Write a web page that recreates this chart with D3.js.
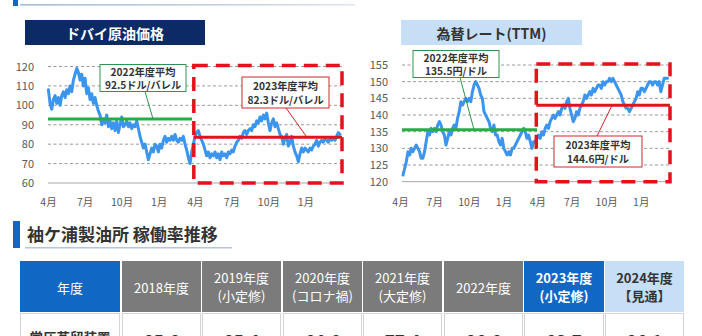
<!DOCTYPE html>
<html><head><meta charset="utf-8">
<script src="https://cdn.jsdelivr.net/npm/d3@7"></script>
<style>
html,body{margin:0;padding:0;background:#fff;overflow:hidden;}
svg{display:block;font-family:"Noto Sans CJK JP","Noto Sans",sans-serif;}
</style></head><body>
<svg id="c" width="702" height="336"></svg>
<script>
// ---------------- data ----------------
const oilValues = [108,101,98,103,105,101,104,100,105,107,104,108,106,110,107,113,116,119,117,113,
116,110,114,106,109,103,106,101,104,100,97,95,90,93,91,95,89,92,88,91,
87,92,86,90,94,89,90,92,89,91,88,90,89,92,88,84,81,78,80,76,
72,75,78,76,80,79,76,80,78,82,84,81,83,82,84,82,85,82,81,83,
82,84,80,77,73,70,76,80,84,86,87,84,82,80,77,74,76,73,75,74,
76,73,75,72,76,74,75,73,76,75,77,76,79,81,82,84,83,86,87,85,
87,88,87,90,89,92,91,94,92,95,93,96,91,87,91,93,89,91,88,85,
84,80,83,85,79,81,84,79,76,74,71,75,78,76,78,77,76,78,77,79,
80,82,79,81,82,81,83,82,81,83,82,83,82,84,86,85];
const oilDateRange = ["2022-04-02","2024-03-27"];

const fxValues = [122,124,126,129,128,130,129,130,131,130,129,127,127,129,132,135,134,136,135,136,
135,137,138,137,135,134,131,133,135,134,136,137,136,139,141,144,143,144,145,144,
145,144,147,149,150,149,148,146,145,141,140,139,138,136,135,137,134,134,132,131,
133,130,129,128,129,128,130,130,131,132,133,134,135,136,135,133,134,132,130,132,
132,133,134,133,135,134,136,137,136,138,139,140,139,140,141,140,142,143,142,144,
145,142,140,138,139,141,140,142,143,144,146,145,146,147,146,148,147,148,149,149,
148,150,149,150,150,151,150,151,150,149,148,147,146,144,143,142,142,141,142,143,
144,145,147,146,148,148,147,148,149,150,150,149,150,150,149,150,147,149,151,151,151];
const fxDateRange = ["2022-04-09","2024-03-12"];

const monthTicks = ["2022-04-01","2022-07-01","2022-10-01","2023-01-01","2023-04-01","2023-07-01","2023-10-01","2024-01-01"];
const oilYTicks = [60,70,80,90,100,110,120];
const fxYTicks = [120,125,130,135,140,145,150,155];
const oilAvgLevels = [93.0, 83.5];
const fxAvgLevels = [135.6, 142.9];
const oilAvgLabels = [["2022年度平均","92.5ドル/バレル"],["2023年度平均","82.3ドル/バレル"]];
const fxAvgLabels = [["2022年度平均","135.5円/ドル"],["2023年度平均","144.6円/ドル"]];
const fiscalSplit = "2023-04-01";

const tableHeaders = [["年度"],["2018年度"],["2019年度","(小定修)"],["2020年度","(コロナ禍)"],["2021年度","(大定修)"],["2022年度"],["2023年度","(小定修)"],["2024年度","【見通】"]];
const rowLabel = "常圧蒸留装置";
const rowValues = ["85.6","85.4","64.6","77.4","86.6","83.7","96.1"];

// ---------------- drawing ----------------
const svg = d3.select("#c");
const P = d3.timeParse("%Y-%m-%d");
const BLUE = "#1167c4";

// top decoration
svg.append("rect").attr("x",13).attr("y",0).attr("width",5).attr("height",6).attr("fill",BLUE);
const g0 = svg.append("defs").append("linearGradient").attr("id","tg");
g0.append("stop").attr("offset","0%").attr("stop-color","#a9bccd");
g0.append("stop").attr("offset","60%").attr("stop-color","#c4d0dc");
g0.append("stop").attr("offset","100%").attr("stop-color","#dfe6ee");
svg.append("rect").attr("x",20).attr("y",4).attr("width",335).attr("height",1.6).attr("fill","url(#tg)");

function datesFor(range, n){
  const t = d3.scaleLinear().domain([0,n-1]).range([P(range[0]).getTime(),P(range[1]).getTime()]);
  return d3.range(n).map(i=>new Date(t(i)));
}

function panel(cfg){
  const g = svg.append("g");
  // title box
  g.append("rect").attr("x",cfg.title.x).attr("y",20).attr("width",cfg.title.w).attr("height",25).attr("fill",cfg.title.fill);
  g.append("text").attr("x",cfg.title.x+cfg.title.w/2).attr("y",33).attr("text-anchor","middle")
    .attr("dominant-baseline","central").attr("font-size",14).attr("font-weight",700)
    .attr("fill",cfg.title.color).text(cfg.title.text);

  const x = d3.scaleTime().domain([P("2022-04-01"),P("2024-04-01")]).range(cfg.xRange);
  const y = d3.scaleLinear().domain(d3.extent(cfg.yTicks)).range(cfg.yRange);
  const L = cfg.plot[0], R = cfg.plot[1];

  // grid
  g.selectAll(".grid").data(cfg.yTicks).join("line")
    .attr("x1",L).attr("x2",R).attr("y1",d=>y(d)).attr("y2",d=>y(d))
    .attr("stroke", d=> d===cfg.yTicks[0] ? "#a6a6a6" : "#9a9a9a")
    .attr("stroke-width",1)
    .attr("stroke-dasharray", d=> d===cfg.yTicks[0] ? null : "3,2.5");

  // y axis labels
  const ya = g.append("g").attr("transform",`translate(${L},0)`)
    .call(d3.axisLeft(y).tickValues(cfg.yTicks).tickSize(0).tickPadding(cfg.yPad));
  ya.select(".domain").remove();
  ya.selectAll("text").attr("font-size",11).attr("fill","#595959").attr("font-family","'Noto Sans CJK JP',sans-serif");

  // x axis labels
  const xa = g.append("g").attr("transform",`translate(0,${cfg.xLabelY})`)
    .call(d3.axisBottom(x).tickValues(monthTicks.map(P)).tickSize(0).tickPadding(0)
      .tickFormat(d=>(d.getMonth()+1)+"月"));
  xa.select(".domain").remove();
  xa.selectAll("text").attr("font-size",10.5).attr("fill","#595959").attr("font-family","'Noto Sans CJK JP',sans-serif");

  // series
  const dates = datesFor(cfg.dateRange, cfg.values.length);
  const pts = cfg.values.map((v,i)=>[dates[i],v]);
  g.append("path").datum(pts)
    .attr("fill","none").attr("stroke","#3b95ee").attr("stroke-width",3)
    .attr("stroke-linejoin","round").attr("stroke-linecap","round")
    .attr("d", d3.line().x(d=>x(d[0])).y(d=>y(d[1])));

  const split = x(P(fiscalSplit));
  // average lines
  g.append("line").attr("x1",L).attr("x2",cfg.greenEnd).attr("y1",y(cfg.avg[0])).attr("y2",y(cfg.avg[0]))
    .attr("stroke","#27ad46").attr("stroke-width",3);
  g.append("line").attr("x1",split-1).attr("x2",R).attr("y1",y(cfg.avg[1])).attr("y2",y(cfg.avg[1]))
    .attr("stroke","#e3121b").attr("stroke-width",3);

  // dashed frame
  g.append("rect").attr("x",split-1).attr("y",y(cfg.yTicks[cfg.yTicks.length-1])-1)
    .attr("width",R-split+1).attr("height",y(cfg.yTicks[0])-y(cfg.yTicks[cfg.yTicks.length-1])+1)
    .attr("fill","none").attr("stroke","#e3121b").attr("stroke-width",3.5).attr("stroke-dasharray","14,8");

  // labels
  cfg.boxes.forEach((b,i)=>{
    const col = i===0 ? "#2f9350" : "#d0262c";
    g.append("line").attr("x1",b.lx1).attr("y1",b.ly1).attr("x2",b.lx2).attr("y2",y(cfg.avg[i]))
      .attr("stroke",col).attr("stroke-width",1);
    g.append("rect").attr("x",b.x).attr("y",b.y).attr("width",b.w).attr("height",b.h)
      .attr("fill","#fff").attr("stroke",col).attr("stroke-width",1);
    cfg.labels[i].forEach((t,j)=>{
      g.append("text").attr("x",b.x+b.w/2).attr("y",b.y+b.h/2+(j===0?-6.8:6.8)).attr("text-anchor","middle")
        .attr("dominant-baseline","central").attr("font-size",10.2).attr("font-weight",700)
        .attr("fill","#333").text(t);
    });
  });
}

panel({
  title:{x:25,w:180,fill:"#0b2a66",color:"#fff",text:"ドバイ原油価格"},
  xRange:[48,342], yRange:[183,66.5], plot:[48,342], yPad:14, xLabelY:199,
  yTicks:oilYTicks, values:oilValues, dateRange:oilDateRange, avg:oilAvgLevels, greenEnd:192,
  labels:oilAvgLabels,
  boxes:[{x:100,y:64.5,w:86,h:27,lx1:145,ly1:91.5,lx2:153},{x:242,y:77,w:87,h:31,lx1:286,ly1:108,lx2:307}]
});
panel({
  title:{x:401,w:181,fill:"#c6def6",color:"#333",text:"為替レート(TTM)"},
  xRange:[400,675], yRange:[181.7,65], plot:[402,670], yPad:14, xLabelY:199,
  yTicks:fxYTicks, values:fxValues, dateRange:fxDateRange, avg:fxAvgLevels, greenEnd:537,
  labels:fxAvgLabels,
  boxes:[{x:413,y:50.5,w:86,h:27,lx1:460,ly1:77.5,lx2:474},{x:554,y:136,w:88,h:31,lx1:597,ly1:136,lx2:612}]
});

// section heading
svg.append("rect").attr("x",13).attr("y",221).attr("width",7).attr("height",27).attr("fill",BLUE);
svg.append("text").attr("x",27).attr("y",233).attr("dominant-baseline","central")
  .attr("font-size",17).attr("font-weight",700).attr("fill","#333").text("袖ケ浦製油所 稼働率推移");
svg.append("rect").attr("x",25).attr("y",247).attr("width",207).attr("height",1.5).attr("fill","#b7c7d6");

// table
const colX = [20,122,202,283,363,444,524,605];
const colW = [100,79,79,79,79,79,80,79];
const headFill = [BLUE,"#7b7b7b","#7b7b7b","#7b7b7b","#7b7b7b","#7b7b7b",BLUE,"#c6def6"];
const tg = svg.append("g");
tableHeaders.forEach((h,i)=>{
  tg.append("rect").attr("x",colX[i]).attr("y",261).attr("width",colW[i]).attr("height",51).attr("fill",headFill[i]);
  const cx = colX[i]+colW[i]/2;
  const bold = i>=6;
  const col = i===7 ? "#333" : "#fff";
  const ys = h.length===1 ? [287] : [277,295];
  h.forEach((t,j)=>{
    tg.append("text").attr("x",cx).attr("y",ys[j]).attr("text-anchor","middle").attr("dominant-baseline","central")
      .attr("font-size",13).attr("font-weight",bold?700:400).attr("fill",col).text(t);
  });
  tg.append("rect").attr("x",colX[i]+0.5).attr("y",313.5).attr("width",colW[i]-1).attr("height",40)
    .attr("fill","#fff").attr("stroke","#d4d4d4").attr("stroke-width",1);
});
tg.append("text").attr("x",70).attr("y",343).attr("text-anchor","middle")
  .attr("font-size",13.5).attr("font-weight",700).attr("fill","#333").text(rowLabel);
rowValues.forEach((v,i)=>{
  tg.append("text").attr("x",colX[i+1]+colW[i+1]/2).attr("y",348).attr("text-anchor","middle")
    .attr("font-size",17).attr("font-weight",700).attr("fill","#333").text(v);
});
</script></body></html>
